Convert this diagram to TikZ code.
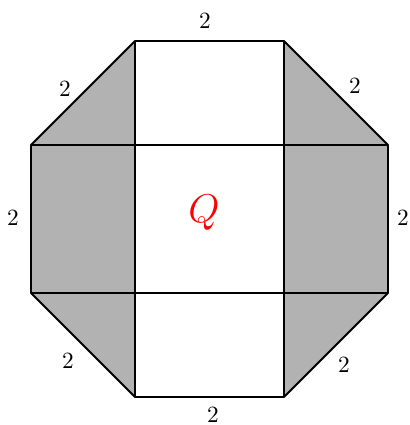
\documentclass[tikz,border=0pt]{standalone}
\begin{document}
\begin{tikzpicture}[x=0.43pt,y=-0.43pt,
  edge/.style={line width=0.8pt,line join=round},
  inner/.style={line width=0.55pt},
  shade/.style={fill=black!30},
  lab/.style={font=\normalsize,inner sep=0pt}]
\useasboundingbox (0,0) rectangle (409,425);
% vertices
\coordinate (A) at (135,41);
\coordinate (B) at (284,41);
\coordinate (C) at (388,145);
\coordinate (D) at (388,293);
\coordinate (E) at (284,397);
\coordinate (F) at (135,397);
\coordinate (G) at (31,293);
\coordinate (H) at (31,145);
\coordinate (AH) at (135,145);
\coordinate (FG) at (135,293);
\coordinate (BC) at (284,145);
\coordinate (ED) at (284,293);
% gray regions
\fill[shade] (A) -- (AH) -- (FG) -- (F) -- (G) -- (H) -- cycle;
\fill[shade] (B) -- (C) -- (D) -- (E) -- (ED) -- (BC) -- cycle;
% inner lines
\draw[inner] (H) -- (C);
\draw[inner] (G) -- (D);
\draw[inner] (A) -- (F);
\draw[inner] (B) -- (E);
% outline
\draw[edge] (A) -- (B) -- (C) -- (D) -- (E) -- (F) -- (G) -- (H) -- cycle;
% labels
\node[lab] (l1) at (205,21) {$2$};
\node[lab] (l2) at (355,86) {$2$};
\node[lab] (l3) at (403,218) {$2$};
\node[lab] (l4) at (344,365) {$2$};
\node[lab] (l5) at (213,415) {$2$};
\node[lab] (l6) at (68,361) {$2$};
\node[lab] (l7) at (13,218) {$2$};
\node[lab] (l8) at (65,89) {$2$};
\node[inner sep=0pt,text=red,font=\LARGE] (Q) at (204,213) {$Q$};
\end{tikzpicture}
\end{document}
